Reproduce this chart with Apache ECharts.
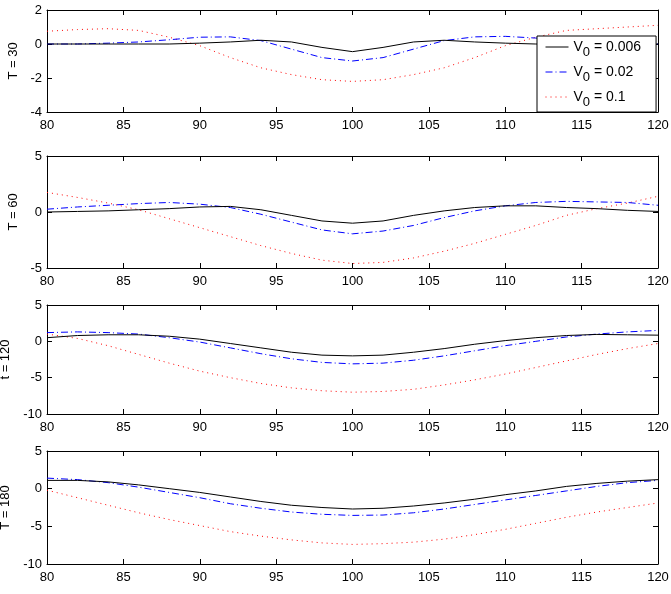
<!DOCTYPE html>
<html>
<head>
<meta charset="utf-8">
<script src="https://cdn.jsdelivr.net/npm/echarts@6/dist/echarts.min.js"></script>
<style>
  html, body { margin: 0; padding: 0; background: #fff; }
  #chart { width: 671px; height: 594px; }
</style>
</head>
<body>
<div id="chart"></div>
<script>
// x positions (every 2 units)
const xs = [80, 82, 84, 86, 88, 90, 92, 94, 96, 98, 100, 102, 104, 106, 108, 110, 112, 114, 116, 118, 120]

// T = 30
const t30_v006 = [0, 0, 0, 0, 0, 0.05, 0.12, 0.22, 0.12, -0.2, -0.45, -0.2, 0.12, 0.22, 0.12, 0.05, 0, 0, 0, 0, 0]
const t30_v02 = [0, 0, 0.05, 0.12, 0.25, 0.4, 0.42, 0.2, -0.3, -0.8, -1.0, -0.8, -0.3, 0.2, 0.42, 0.45, 0.35, 0.25, 0.12, 0.05, 0]
const t30_v1 = [0.75, 0.85, 0.9, 0.8, 0.4, -0.1, -0.8, -1.4, -1.8, -2.1, -2.2, -2.1, -1.8, -1.4, -0.8, -0.1, 0.4, 0.8, 0.9, 1.0, 1.1]

// T = 60
const t60_v006 = [0, 0.05, 0.1, 0.2, 0.3, 0.45, 0.5, 0.2, -0.3, -0.8, -1.0, -0.8, -0.3, 0.1, 0.4, 0.55, 0.55, 0.4, 0.3, 0.15, 0.05]
const t60_v02 = [0.25, 0.45, 0.6, 0.75, 0.85, 0.7, 0.4, -0.2, -0.9, -1.6, -1.95, -1.7, -1.2, -0.5, 0.1, 0.55, 0.85, 0.95, 0.9, 0.85, 0.6]
const t60_v1 = [1.75, 1.3, 0.8, 0.2, -0.6, -1.4, -2.2, -3.0, -3.7, -4.3, -4.6, -4.5, -4.1, -3.5, -2.8, -2.0, -1.2, -0.3, 0.3, 0.8, 1.4]

// t = 120
const t120_v006 = [0.5, 0.8, 0.9, 0.9, 0.7, 0.3, -0.3, -0.9, -1.5, -1.9, -2.0, -1.9, -1.5, -1.0, -0.4, 0.1, 0.5, 0.8, 0.95, 0.9, 0.85]
const t120_v02 = [1.2, 1.3, 1.2, 1.0, 0.5, -0.1, -0.9, -1.7, -2.4, -2.9, -3.1, -3.0, -2.6, -2.0, -1.3, -0.6, 0.0, 0.6, 1.0, 1.3, 1.5]
const t120_v1 = [1.0, 0.4, -0.6, -1.8, -3.0, -4.1, -5.0, -5.8, -6.4, -6.8, -7.0, -6.9, -6.6, -6.0, -5.3, -4.5, -3.6, -2.7, -1.8, -1.0, -0.3]

// T = 180
const t180_v006 = [1.1, 1.1, 0.9, 0.5, 0.0, -0.5, -1.1, -1.7, -2.2, -2.5, -2.7, -2.6, -2.3, -1.9, -1.4, -0.8, -0.3, 0.3, 0.7, 1.0, 1.2]
const t180_v02 = [1.4, 1.2, 0.8, 0.2, -0.5, -1.2, -2.0, -2.6, -3.1, -3.4, -3.55, -3.5, -3.2, -2.7, -2.1, -1.5, -0.9, -0.3, 0.3, 0.8, 1.1]
const t180_v1 = [-0.2, -1.2, -2.2, -3.2, -4.1, -4.9, -5.7, -6.3, -6.8, -7.2, -7.4, -7.3, -7.1, -6.7, -6.1, -5.4, -4.6, -3.8, -3.1, -2.5, -1.9]

const panelNames = ['T = 30', 'T = 60', 't = 120', 'T = 180']
const yMins = [-4, -5, -10, -10]
const yMaxs = [2, 5, 5, 5]
const yIntervals = [2, 5, 5, 5]
const legendNames = ['V{sub|0} = 0.006', 'V{sub|0} = 0.02', 'V{sub|0} = 0.1']
const panelData = [
  [t30_v006, t30_v02, t30_v1],
  [t60_v006, t60_v02, t60_v1],
  [t120_v006, t120_v02, t120_v1],
  [t180_v006, t180_v02, t180_v1],
]

// 每个子图的位置
const gridTops = [10, 156, 305, 451]
const gridHeights = [102, 112, 109, 113]

const lineColors = ['#000000', '#0000ff', '#ff0000']
const lineStyles = [
  { color: lineColors[0], width: 1, type: 'solid' },
  { color: lineColors[1], width: 1, type: [7, 3, 1, 3] },
  { color: lineColors[2], width: 1, type: [1, 4] },
]

const font = 'Liberation Sans, Arial, sans-serif'

const grid = []
const xAxis = []
const yAxis = []
const series = []

panelNames.forEach((name, i) => {
  grid.push({ left: 47, width: 611, top: gridTops[i], height: gridHeights[i], outerBoundsMode: 'none', containLabel: false })

  const xBase = {
    type: 'value', gridIndex: i, min: 80, max: 120, interval: 5,
    axisLine: { show: true, onZero: false, lineStyle: { color: '#000', width: 1 } },
    axisTick: { show: true, inside: true, length: 5, lineStyle: { color: '#000' } },
    splitLine: { show: false },
  }
  xAxis.push({
    ...xBase, position: 'bottom',
    axisLabel: { color: '#000', fontSize: 13, fontFamily: font, margin: 7 },
  })
  xAxis.push({ ...xBase, position: 'top', axisLabel: { show: false } })

  const yBase = {
    type: 'value', gridIndex: i, min: yMins[i], max: yMaxs[i], interval: yIntervals[i],
    axisLine: { show: true, onZero: false, lineStyle: { color: '#000', width: 1 } },
    axisTick: { show: true, inside: true, length: 5, lineStyle: { color: '#000' } },
    splitLine: { show: false },
  }
  yAxis.push({
    ...yBase, position: 'left',
    name, nameLocation: 'middle', nameGap: 26, nameRotate: 90,
    nameTextStyle: { color: '#000', fontSize: 13, fontFamily: font },
    axisLabel: { color: '#000', fontSize: 13, fontFamily: font, margin: 5 },
  })
  yAxis.push({ ...yBase, position: 'right', axisLabel: { show: false } })

  panelData[i].forEach((vals, k) => {
    series.push({
      name: legendNames[k],
      type: 'line',
      xAxisIndex: i * 2,
      yAxisIndex: i * 2,
      data: xs.map((x, j) => [x, vals[j]]),
      showSymbol: false,
      symbol: 'none',
      smooth: false,
      silent: true,
      z: 3 - k,
      itemStyle: { color: lineColors[k] },
      lineStyle: lineStyles[k],
    })
  })
})

const chart = echarts.init(document.getElementById('chart'), null, { renderer: 'canvas' })

chart.setOption({
  backgroundColor: '#fff',
  animation: false,
  grid,
  xAxis,
  yAxis,
  legend: {
    data: legendNames,
    orient: 'vertical',
    left: 537,
    top: 36,
    padding: [4, 15, 3, 8],
    itemGap: 6,
    itemWidth: 23,
    itemHeight: 14,
    backgroundColor: '#fff',
    borderColor: '#000',
    borderWidth: 1,
    borderRadius: 0,
    selectedMode: false,
    itemStyle: { opacity: 0 },
    lineStyle: { width: 1 },
    textStyle: {
      color: '#000',
      fontSize: 14,
      fontFamily: font,
      rich: {
        sub: { fontSize: 13, fontFamily: font, color: '#000', verticalAlign: 'bottom', padding: [11, 0, 0, 0] },
      },
    },
  },
  series,
})
</script>
</body>
</html>
